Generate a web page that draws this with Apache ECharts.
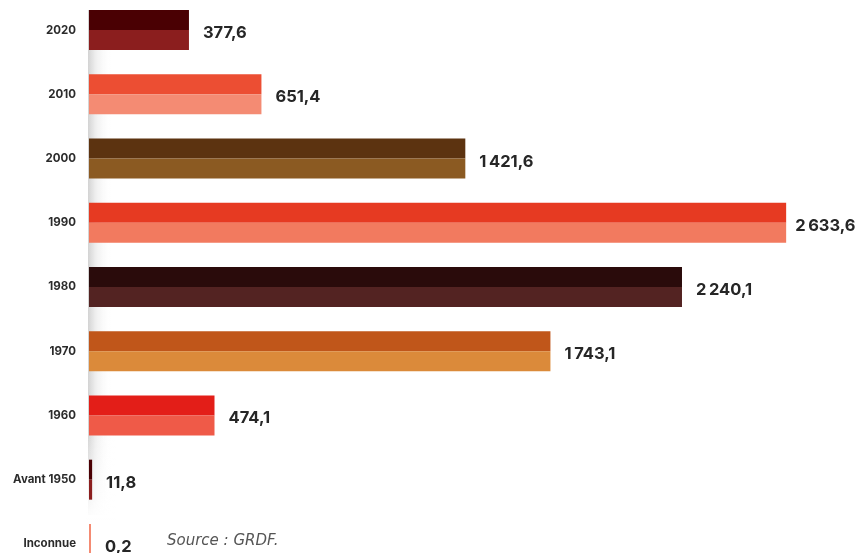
<!DOCTYPE html>
<html>
<head>
<meta charset="utf-8">
<script src="https://cdn.jsdelivr.net/npm/echarts@6/dist/echarts.min.js"></script>
<style>
  html, body { margin: 0; padding: 0; background: #fff; }
  #chart { width: 858px; height: 553px; }
</style>
</head>
<body>
<div id="chart"></div>
<script>
const categories = ['2020', '2010', '2000', '1990', '1980', '1970', '1960', 'Avant 1950', 'Inconnue']
const values = [377.6, 651.4, 1421.6, 2633.6, 2240.1, 1743.1, 474.1, 11.8, 0.2]
const topColors = ['#4a0003', '#ec4e33', '#5c3310', '#e63a22', '#2a0b0b', '#c0561a', '#e31e18', '#4a0003', '#f48b73']
const bottomColors = ['#8b1e1e', '#f48b73', '#8b5a22', '#f27a5f', '#532322', '#db8a3a', '#ef5a48', '#8b1e1e', '#f48b73']

// french number format: thin space for thousands, comma for decimals
const fmt = (v) => {
    const [i, d] = v.toFixed(1).split('.')
    return i.replace(/\B(?=(\d{3})+(?!\d))/g, '\u2009') + ',' + d
}

const chartDom = document.getElementById('chart')
const myChart = echarts.init(chartDom)

const option = {
    animation: false,
    grid: {
        left: 89,
        right: 0,
        top: -2,
        bottom: -23,
        outerBoundsMode: 'none'
    },
    xAxis: {
        type: 'value',
        min: 0,
        max: 2905,
        show: false
    },
    yAxis: {
        type: 'category',
        inverse: true,
        data: categories,
        axisLine: { show: false },
        axisTick: { show: false },
        axisLabel: {
            margin: 13,
            fontFamily: 'Inter',
            fontWeight: 'bold',
            fontSize: 11.5,
            color: '#2b2b2b'
        }
    },
    graphic: [
        {
            type: 'rect',
            z: -10,
            shape: { x: 88, y: 10, width: 24, height: 505 },
            style: {
                fill: new echarts.graphic.LinearGradient(0, 0, 1, 0, [
                    { offset: 0, color: 'rgba(205,205,205,0.9)' },
                    { offset: 0.35, color: 'rgba(230,230,230,0.6)' },
                    { offset: 1, color: 'rgba(255,255,255,0)' }
                ])
            }
        },
        {
            type: 'rect',
            z: -9,
            shape: { x: 86, y: 430, width: 30, height: 90 },
            style: {
                fill: new echarts.graphic.LinearGradient(0, 0, 0, 1, [
                    { offset: 0, color: 'rgba(255,255,255,0)' },
                    { offset: 1, color: 'rgba(255,255,255,1)' }
                ])
            }
        },
        {
            type: 'text',
            left: 167,
            top: 534,
            style: {
                text: 'Source : GRDF.',
                fontFamily: 'DejaVu Sans',
                fontStyle: 'italic',
                fontSize: 15,
                fill: '#555'
            }
        }
    ],
    series: [
        {
            name: 'top',
            type: 'bar',
            barWidth: 20,
            barGap: 0,
            barMinHeight: 2,
            itemStyle: {
                color: (p) => topColors[p.dataIndex]
            },
            label: {
                show: true,
                position: 'right',
                distance: 14,
                offset: [0, 13],
                formatter: (p) => fmt(p.value),
                fontFamily: 'Inter',
                fontWeight: 'bold',
                fontSize: 16.5,
                color: '#262626'
            },
            // the longest bar's label sits a bit closer to fit the frame
            data: values.map((v, i) => (i === 3 ? { value: v, label: { distance: 9 } } : v))
        },
        {
            name: 'bottom',
            type: 'bar',
            barWidth: 20,
            barGap: 0,
            barMinHeight: 2,
            itemStyle: {
                color: (p) => bottomColors[p.dataIndex]
            },
            data: values
        }
    ]
}

myChart.setOption(option)
</script>
</body>
</html>
